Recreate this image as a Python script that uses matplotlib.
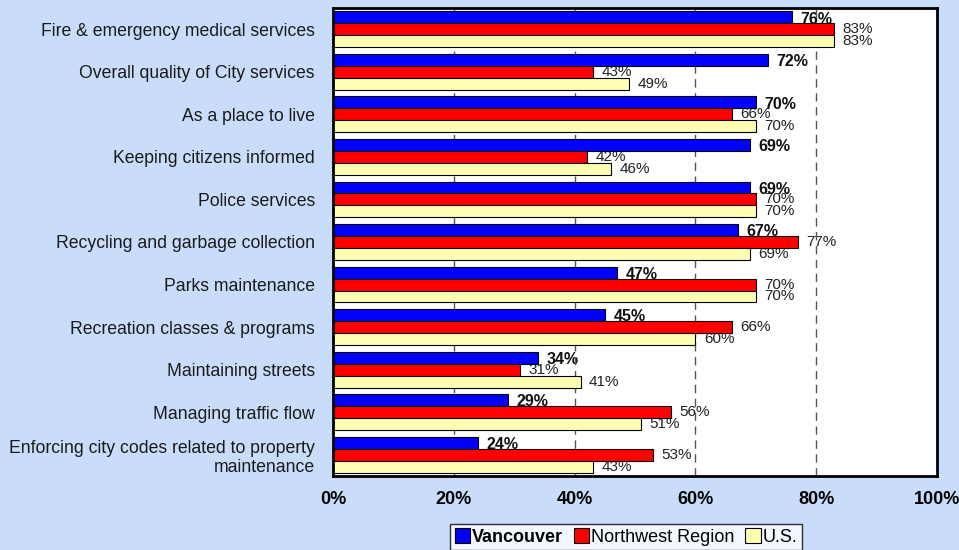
import numpy as np
import matplotlib
matplotlib.use('Agg')
import matplotlib.pyplot as plt
from matplotlib.patches import Patch

plt.rcParams['font.family'] = ['Liberation Sans', 'DejaVu Sans']

categories = ['Fire & emergency medical services',
              'Overall quality of City services',
              'As a place to live',
              'Keeping citizens informed',
              'Police services',
              'Recycling and garbage collection',
              'Parks maintenance',
              'Recreation classes & programs',
              'Maintaining streets',
              'Managing traffic flow',
              'Enforcing city codes related to property\nmaintenance']
vancouver = [76, 72, 70, 69, 69, 67, 47, 45, 34, 29, 24]
northwest = [83, 43, 66, 42, 70, 77, 70, 66, 31, 56, 53]
us = [83, 49, 70, 46, 70, 69, 70, 60, 41, 51, 43]
series_names = ['Vancouver', 'Northwest Region', 'U.S.']
xticks = [0, 20, 40, 60, 80, 100]

bg = '#C9DDFB'
colors = ['#0000FF', '#FF0000', '#FFFFB4']

fig = plt.figure(figsize=(9.59, 5.5), dpi=100, facecolor=bg)
ax = fig.add_axes([333 / 959, 1 - 476 / 550, 604 / 959, 468 / 550])
ax.set_facecolor('white')

y = np.arange(len(categories))
h = 0.28
offs = [-h, 0, h]
for vals, c, off, nm in zip([vancouver, northwest, us], colors, offs, series_names):
    ax.barh(y + off, vals, height=h, color=c, edgecolor='black',
            linewidth=0.8, zorder=2, label=nm)

for i in range(len(categories)):
    ax.text(vancouver[i] + 1.4, y[i] - h + 0.04, f'{vancouver[i]}%',
            va='center', ha='left', fontsize=11.5, fontweight='bold',
            color='#111111', zorder=1.5)
    ax.text(northwest[i] + 1.4, y[i], f'{northwest[i]}%',
            va='center', ha='left', fontsize=11, color='#222222', zorder=1.5)
    ax.text(us[i] + 1.4, y[i] + h, f'{us[i]}%',
            va='center', ha='left', fontsize=11, color='#222222', zorder=1.5)

for gx in [20, 40, 60, 80]:
    ax.axvline(gx, color='#555555', lw=1, linestyle=(0, (6, 4)), zorder=1.7)

ax.set_xlim(0, 100)
ax.set_ylim(len(categories) - 0.5, -0.5)
ax.set_xticks(xticks)
ax.set_xticklabels([f'{t}%' for t in xticks], fontsize=13, fontweight='bold')
ax.set_yticks(y)
ax.set_yticklabels(categories, fontsize=12.7, color='#1a1a1a')
ax.tick_params(axis='both', length=0)
ax.tick_params(axis='x', pad=11)
ax.tick_params(axis='y', pad=13)
for s in ax.spines.values():
    s.set_linewidth(2)
    s.set_color('black')

handles = [Patch(facecolor=c, edgecolor='black', linewidth=0.8) for c in colors]
leg = fig.legend(handles, series_names, loc='center', ncol=3,
                 bbox_to_anchor=(626 / 959, 1 - 537 / 550), fontsize=13,
                 frameon=True, fancybox=False, edgecolor='black',
                 handlelength=0.85, handleheight=0.85, handletextpad=0.1,
                 columnspacing=0.6, borderpad=0.25, borderaxespad=0)
leg.get_frame().set_linewidth(1)
leg.get_texts()[0].set_fontweight('bold')

fig.savefig('out.png', dpi=100, facecolor=bg)
